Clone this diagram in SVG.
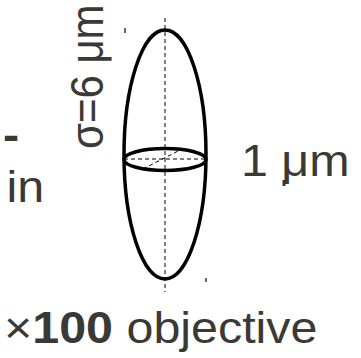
<svg xmlns="http://www.w3.org/2000/svg" width="361" height="358" viewBox="0 0 361 358">
<style>
.t{font-family:"Liberation Sans",Arial,sans-serif;font-size:44px;fill:#3a3935}
.b{font-weight:bold}
.solid{fill:none;stroke:#000;stroke-width:3.5}
.dash{fill:none;stroke:#000;stroke-width:1;stroke-dasharray:4 3}
.tick{stroke:#000;stroke-width:1.2}
</style>
<rect width="361" height="358" fill="#fff"/>
<g id="ellipsoid">
<ellipse class="solid" cx="165" cy="154.5" rx="41" ry="124.5"/>
<ellipse class="solid" cx="165" cy="159.5" rx="41" ry="11"/>
<line class="dash" x1="165" y1="18" x2="165" y2="292"/>
<line class="dash" x1="124" y1="159" x2="206" y2="159"/>
<line class="dash" x1="143" y1="169" x2="182" y2="149"/>
</g>
<g id="ticks">
<line class="tick" x1="125" y1="28" x2="125" y2="33"/>
<line class="tick" x1="206" y1="278" x2="206" y2="282"/>
<line class="tick" x1="110.5" y1="57" x2="110.5" y2="59" stroke-opacity="0.4"/>
<line x1="284" y1="180" x2="284" y2="186" stroke="#3a3935" stroke-width="3"/>
</g>
<g id="labels">
<text class="t b" transform="translate(3,150) scale(1.1,1)" x="0" y="0">-</text>
<text class="t" transform="translate(0,202) scale(1.1,1)" x="6">in</text>
<text class="t" transform="translate(241,175.5) scale(1.1,1)" x="0">1 μm</text>
<text class="t" transform="translate(4,343) scale(1.1,1)" x="0">×<tspan class="b">100</tspan> objective</text>
<text class="t" style="font-size:42px" transform="translate(102.5,149) scale(1.1,1) rotate(-90)" x="0" y="0">σ=6 μm</text>
</g>
</svg>
